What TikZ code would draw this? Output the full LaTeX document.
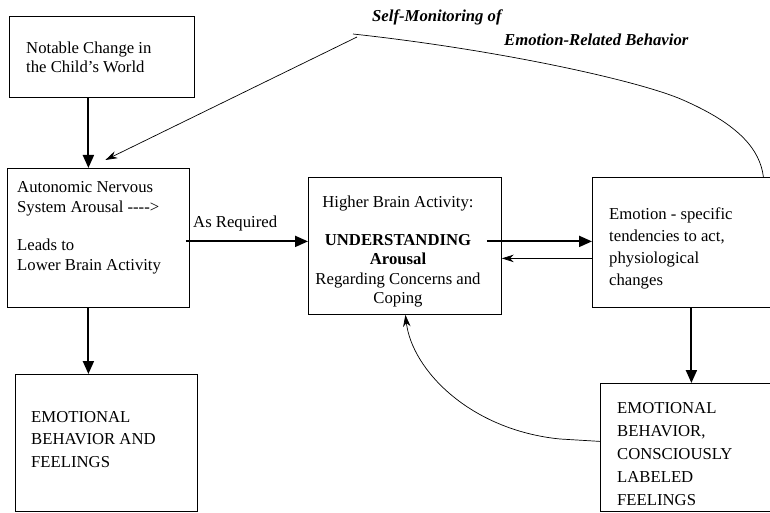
\documentclass[tikz,border=0pt]{standalone}
\usepackage{fontspec}
\setmainfont{Liberation Serif}
\usetikzlibrary{arrows.meta}
\newcommand{\mylines}[2][l]{\begin{tabular}[t]{@{}#1@{}}#2\end{tabular}}
\begin{document}
\begin{tikzpicture}[x=1pt,y=-1pt,
  box/.style={draw, line width=0.8pt, rectangle, inner sep=0pt, anchor=north west},
  txt/.style={inner sep=0pt, anchor=base west, font=\fontsize{16.7}{19.3}\selectfont},
  bigarrow/.style={line width=2pt, -{Triangle[length=13pt,width=11pt]}},
  thinarrow/.style={line width=0.7pt, -{Stealth[length=12pt,width=7.5pt]}},
  thinline/.style={line width=0.7pt}]
\useasboundingbox (0,0) rectangle (770,513);
\clip (0,0) rectangle (770,513);
% boxes
\node[box, minimum width=185pt, minimum height=81pt] (b1) at (9,16) {};
\node[box, minimum width=182pt, minimum height=139pt] (b2) at (7,168) {};
\node[box, minimum width=193pt, minimum height=137pt] (b3) at (308,177) {};
\node[box, minimum width=200pt, minimum height=130pt] (b4) at (592,177) {};
\node[box, minimum width=182pt, minimum height=137pt] (b5) at (15,374) {};
\node[box, minimum width=200pt, minimum height=128pt] (b6) at (600,383) {};
% texts
\node[txt, font=\fontsize{16.7}{19}\selectfont] (t1) at (26,54) {\mylines{Notable Change in\\the Child’s World}};
\node[txt] (t2) at (17,193) {\mylines{Autonomic Nervous\\System Arousal -{}-{}-{}->\\ \\Leads to\\Lower Brain Activity}};
\node[txt, anchor=base] (t3) at (398,207) {\mylines[c]{Higher Brain Activity:\\ \\\textbf{UNDERSTANDING}\\\textbf{Arousal}\\Regarding Concerns and\\Coping}};
\node[txt, font=\fontsize{16.7}{22}\selectfont] (t4) at (609,219) {\mylines{Emotion - specific\\tendencies to act,\\physiological\\changes}};
\node[txt, font=\fontsize{16.7}{22.5}\selectfont] (t5) at (31,422) {\mylines{EMOTIONAL\\BEHAVIOR AND\\FEELINGS}};
\node[txt, font=\fontsize{16.7}{23}\selectfont] (t6) at (617,413) {\mylines{EMOTIONAL\\BEHAVIOR,\\CONSCIOUSLY\\LABELED\\FEELINGS}};
\node[txt] (t7) at (193,227) {As Required};
\node[txt, font=\fontsize{16.7}{19}\selectfont\bfseries\itshape] (t8) at (372,22) {Self-Monitoring of};
\node[txt, font=\fontsize{16.7}{19}\selectfont\bfseries\itshape] (t9) at (504,46) {Emotion-Related Behavior};
% connectors
\coordinate (smA) at (353,34);
\coordinate (smB) at (357,37);
\draw[bigarrow] ([xshift=-13.5pt]b1.south) -- ([xshift=-10pt]b2.north);
\draw[bigarrow] ([xshift=-4pt,yshift=-3.5pt]b2.east) -- ([yshift=4.5pt]b3.west);
\draw[bigarrow] ([xshift=-15pt,yshift=4.5pt]b3.east) -- ([yshift=1pt]b4.west);
\draw[thinarrow] ([yshift=-16pt]b4.west) -- ([yshift=-12.5pt]b3.east);
\draw[bigarrow] ([xshift=-10pt]b2.south) -- ([xshift=-18pt]b5.north);
\draw[bigarrow] ([xshift=-1pt]b4.south) -- ([xshift=-9pt]b6.north);
\draw[thinline] ([xshift=71pt]b4.north) .. controls (760,150) and (740,125) .. (683,100)
   .. controls (640,81) and (500,50) .. (smA);
\draw[thinarrow] (smB) -- ([xshift=7pt,yshift=8pt]b2.north);
\draw[thinarrow] ([yshift=6pt]b6.west) -- (560,439) .. controls (470,430) and (412,370) .. ([xshift=0.5pt]b3.south);
\end{tikzpicture}
\end{document}
